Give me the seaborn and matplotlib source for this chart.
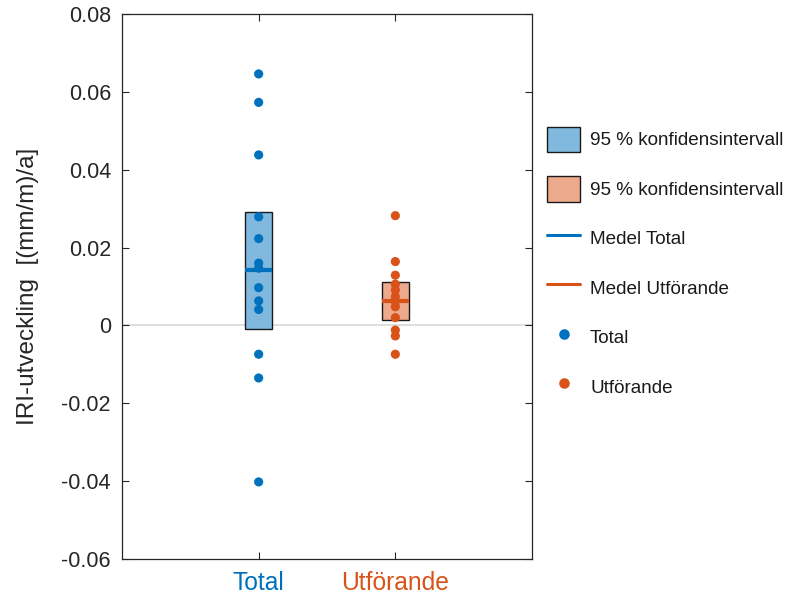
import numpy as np
import pandas as pd
import matplotlib
matplotlib.use("Agg")
import matplotlib.pyplot as plt
from matplotlib.patches import Patch
from matplotlib.lines import Line2D
import seaborn as sns

# ---- data ----
categories = ["Total", "Utförande"]
total_values = [0.0646, 0.0573, 0.0438, 0.0279, 0.0223, 0.0160, 0.0147,
                0.0097, 0.0063, 0.0041, -0.0074, -0.0135, -0.0402]
utf_values = [0.0282, 0.0164, 0.0129, 0.0106, 0.0091, 0.0074, 0.0061,
              0.0048, 0.0020, -0.0012, -0.0027, -0.0074]
means = [0.0142, 0.0063]
ci_lower = [-0.0008, 0.0014]
ci_upper = [0.0292, 0.0112]
y_ticks = [-0.06, -0.04, -0.02, 0, 0.02, 0.04, 0.06, 0.08]
y_tick_labels = ["-0.06", "-0.04", "-0.02", "0", "0.02", "0.04", "0.06", "0.08"]
legend_labels = ["95 % konfidensintervall", "95 % konfidensintervall",
                 "Medel Total", "Medel Utförande", "Total", "Utförande"]

colors = ["#0072BD", "#D95319"]
face_colors = ["#80B8DE", "#ECA98C"]

sns.set_theme(style="white")
plt.rcParams["font.family"] = ["Liberation Sans", "DejaVu Sans"]

df = pd.DataFrame({
    "group": ["Total"] * len(total_values) + ["Utförande"] * len(utf_values),
    "value": total_values + utf_values,
})

fig = plt.figure(figsize=(7.86, 5.98), dpi=100)
ax = fig.add_axes([122 / 786, 1 - 559 / 598, 410 / 786, 545 / 598])

# zero reference line
ax.axhline(0, color="#D9D9D9", lw=1.2, zorder=0)

# confidence interval boxes and mean lines
pos = np.arange(len(categories))
for i in range(len(categories)):
    ax.bar(pos[i], ci_upper[i] - ci_lower[i], bottom=ci_lower[i], width=0.2,
           color=face_colors[i], edgecolor="#1A1A1A", linewidth=1.0, zorder=1)
    ax.hlines(means[i], pos[i] - 0.1, pos[i] + 0.1, color=colors[i], lw=3, zorder=2)

sns.stripplot(data=df, x="group", y="value", hue="group", order=categories,
              hue_order=categories, palette=colors, jitter=False, size=6.6,
              linewidth=0, ax=ax, legend=False, zorder=3)

ax.set_xlim(-1, 2)
ax.set_ylim(-0.06, 0.08)
ax.set_yticks(y_ticks)
ax.set_yticklabels(y_tick_labels)
ax.set_xlabel("")
ax.set_ylabel("IRI-utveckling  [(mm/m)/a]", fontsize=17.5, color="#262626", labelpad=16)
ax.tick_params(axis="y", labelsize=15.5, labelcolor="#262626", direction="in",
               length=5, width=0.8, color="#262626", left=True, right=True, pad=8)
ax.tick_params(axis="x", labelsize=17.7, direction="in", length=5, width=0.8,
               color="#262626", bottom=True, top=True, pad=9)
for lab, c in zip(ax.get_xticklabels(), colors):
    lab.set_color(c)
for sp in ax.spines.values():
    sp.set_visible(True)
    sp.set_color("#262626")
    sp.set_linewidth(0.9)

handles = [
    Patch(facecolor=face_colors[0], edgecolor="#1A1A1A", linewidth=1.0),
    Patch(facecolor=face_colors[1], edgecolor="#1A1A1A", linewidth=1.0),
    Line2D([0], [0], color=colors[0], lw=2.2),
    Line2D([0], [0], color=colors[1], lw=2.2),
    Line2D([0], [0], color=colors[0], lw=0, marker="o", markersize=6.6),
    Line2D([0], [0], color=colors[1], lw=0, marker="o", markersize=6.6),
]
fig.legend(handles, legend_labels, loc="center left",
           bbox_to_anchor=(547 / 786, 1 - 263 / 598), frameon=False,
           fontsize=13.6, handlelength=1.75, handleheight=1.7,
           handletextpad=0.53, labelspacing=1.27, borderpad=0,
           borderaxespad=0, labelcolor="#1A1A1A")

fig.savefig("out.png", dpi=100)
